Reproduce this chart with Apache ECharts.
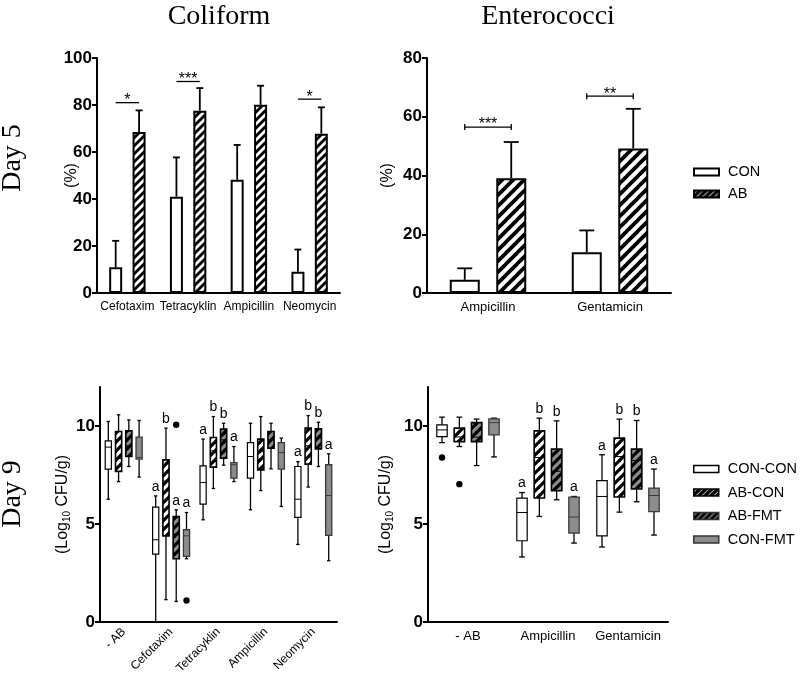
<!DOCTYPE html>
<html><head><meta charset="utf-8">
<script src="https://cdn.jsdelivr.net/npm/echarts@6/dist/echarts.min.js"></script>
<style>html,body{margin:0;padding:0;background:#fff}#c{width:800px;height:685px}</style>
</head><body><div id="c"></div>
<script>
// ---------- Day 5 : Coliform ----------
const coliCats = ['Cefotaxim', 'Tetracyklin', 'Ampicillin', 'Neomycin'];
const coliCON = [11, 41, 48.2, 9];
const coliCONUpper = [22.2, 57.7, 63, 18.5];
const coliAB = [68.5, 77.6, 80.1, 67.8];
const coliABUpper = [77.7, 87.2, 88.2, 79];
const coliSigCat = [0, 1, 3];
const coliSigY = [81, 90, 82.5];
const coliSigText = ['*', '***', '*'];

// ---------- Day 5 : Enterococci ----------
const enteroCats = ['Ampicillin', 'Gentamicin'];
const enteroCON = [4.5, 13.9];
const enteroCONUpper = [8.4, 21.3];
const enteroAB = [39.1, 49.2];
const enteroABUpper = [51.4, 62.7];
const enteroSigCat = [0, 1];
const enteroSigY = [56.5, 67];
const enteroSigText = ['***', '**'];

// ---------- Day 9 ----------
const groups = ['CON-CON', 'AB-CON', 'AB-FMT', 'CON-FMT'];
const coli9Cats = ['- AB', 'Cefotaxim', 'Tetracyklin', 'Ampicillin', 'Neomycin'];
// [min, Q1, median, Q3, max]
const coli9ConCon = [[6.27, 7.81, 8.93, 9.25, 10.24], [0, 3.47, 4.2, 5.87, 6.44], [5.22, 6.02, 7.12, 7.97, 9.34], [5.73, 7.35, 8.45, 9.16, 10.15], [3.96, 5.34, 6.27, 7.94, 8.19]];
const coli9AbCon = [[7.17, 7.69, 8.35, 9.73, 10.58], [1.14, 4.4, 7.2, 8.28, 9.9], [6.82, 7.91, 8.74, 9.42, 10.49], [6.71, 7.77, 8.7, 9.34, 10.49], [6.89, 8.06, 9.0, 9.9, 10.54]];
const coli9AbFmt = [[7.94, 8.45, 9.0, 9.76, 10.32], [1.05, 3.23, 4.5, 5.39, 5.73], [8.01, 8.37, 9.3, 9.85, 10.15], [7.82, 8.88, 9.3, 9.73, 10.15], [7.94, 8.84, 9.4, 9.86, 10.2]];
const coli9ConFmt = [[7.4, 8.32, 8.4, 9.44, 10.29], [3.23, 3.35, 4.4, 4.71, 5.59], [7.17, 7.35, 8.03, 8.14, 8.96], [5.9, 7.81, 8.65, 9.16, 9.39], [3.13, 4.42, 6.46, 8.03, 8.59]];
const coli9LettersConCon = ['', 'a', 'a', '', 'a'];
const coli9LettersAbCon = ['', 'b', 'b', '', 'b'];
const coli9LettersAbFmt = ['', 'a', 'b', '', 'b'];
const coli9LettersConFmt = ['', 'a', 'a', '', 'a'];
// [category index, group index, value]
const coli9Outliers = [[1, 2, 10.07], [1, 3, 1.1]];

const entero9Cats = ['- AB', 'Ampicillin', 'Gentamicin'];
const entero9ConCon = [[9.16, 9.47, 9.81, 10.07, 10.46], [3.32, 4.15, 5.59, 6.33, 6.61], [3.83, 4.4, 6.41, 7.22, 8.54]];
const entero9AbCon = [[8.96, 9.21, 9.45, 9.9, 10.46], [5.39, 6.33, 8.4, 9.76, 10.41], [5.61, 6.38, 8.45, 9.39, 10.36]];
const entero9AbFmt = [[7.99, 9.21, 9.44, 10.18, 10.36], [6.24, 6.7, 7.7, 8.83, 10.27], [6.14, 6.79, 8.25, 8.83, 10.29]];
const entero9ConFmt = [[8.43, 9.56, 10.18, 10.37, 10.41], [4.03, 4.54, 5.36, 6.38, 6.41], [4.44, 5.64, 6.46, 6.84, 7.81]];
const entero9LettersConCon = ['', 'a', 'a'];
const entero9LettersAbCon = ['', 'b', 'b'];
const entero9LettersAbFmt = ['', 'b', 'b'];
const entero9LettersConFmt = ['', 'a', 'a'];
const entero9Outliers = [[0, 0, 8.4], [0, 1, 7.04]];

const pctTicks = [0, 20, 40, 60, 80, 100];
const logTicks = [0, 5, 10];

// ---------- helpers ----------
const SANS = '"Liberation Sans", Arial, sans-serif';
const SERIF = '"Liberation Serif", "Times New Roman", serif';
function stripes(p, bg, lw) {
  const c = document.createElement('canvas');
  c.width = p; c.height = p;
  const g = c.getContext('2d');
  g.fillStyle = bg; g.fillRect(0, 0, p, p);
  g.strokeStyle = '#000'; g.lineWidth = lw;
  for (let k = -1; k <= 1; k++) {
    g.beginPath(); g.moveTo(k * p - 1, p + 1); g.lineTo(k * p + p + 1, -1); g.stroke();
  }
  return { image: c, repeat: 'repeat' };
}
const GRAY = '#8c8c8c';
const patTL = stripes(8, '#fff', 2.8);
const patTR = stripes(11, '#fff', 3.8);
const patBW = stripes(9, '#fff', 3.2);
const patBG = stripes(9, GRAY, 3.2);
const patLegAB = stripes(6, '#fff', 3.5);

function xAx(gi, cats, rotate, fs) {
  return {
    type: 'category', gridIndex: gi, data: cats,
    axisLine: { lineStyle: { color: '#000', width: 2 } },
    axisTick: { alignWithLabel: true, length: 5, lineStyle: { color: '#000', width: 2 } },
    axisLabel: { color: '#000', fontSize: fs, fontFamily: SANS, margin: 8, rotate: rotate, interval: 0 },
    splitLine: { show: false }
  };
}
function yAx(gi, max, interval, ticks, name, gap) {
  return {
    type: 'value', gridIndex: gi, min: 0, max: max, interval: interval,
    name: name, nameLocation: 'middle', nameGap: gap, nameRotate: 90, nameMoveOverlap: false,
    nameTextStyle: { color: '#000', fontSize: 16, fontFamily: SANS, rich: { sub: { fontSize: 10, verticalAlign: 'bottom', padding: [8, 0, 0, 0], fontFamily: SANS, color: '#000' } } },
    axisLine: { show: true, lineStyle: { color: '#000', width: 2 } },
    axisTick: { show: true, length: 5, lineStyle: { color: '#000', width: 2 }, customValues: ticks },
    axisLabel: { color: '#000', fontSize: 17, fontWeight: 'bold', fontFamily: SANS, margin: 5, customValues: ticks },
    splitLine: { show: false }
  };
}
function barSeries(ax, name, vals, color, bw, gap) {
  return {
    type: 'bar', name: name, xAxisIndex: ax, yAxisIndex: ax, data: vals,
    barWidth: bw, barGap: gap, z: 3,
    itemStyle: { color: color, borderColor: '#000', borderWidth: 2 }
  };
}
function errSeries(ax, vals, uppers, off, capW) {
  return {
    type: 'custom', xAxisIndex: ax, yAxisIndex: ax, silent: true, z: 2,
    data: vals.map((v, i) => [i, v, uppers[i]]),
    renderItem(params, api) {
      const c = api.coord([api.value(0), api.value(1)]);
      const e = api.coord([api.value(0), api.value(2)]);
      const x = c[0] + off;
      const st = { stroke: '#000', lineWidth: 1.8 };
      return { type: 'group', children: [
        { type: 'line', shape: { x1: x, y1: c[1], x2: x, y2: e[1] }, style: st },
        { type: 'line', shape: { x1: x - capW / 2, y1: e[1], x2: x + capW / 2, y2: e[1] }, style: st }
      ] };
    }
  };
}
function sigSeries(ax, cats, ys, texts, off, endTick) {
  return {
    type: 'custom', xAxisIndex: ax, yAxisIndex: ax, silent: true, z: 4,
    data: cats.map((c, i) => [c, ys[i]]),
    renderItem(params, api) {
      const p = api.coord([api.value(0), api.value(1)]);
      const st = { stroke: '#000', lineWidth: 1.3 };
      const ch = [{ type: 'line', shape: { x1: p[0] - off, y1: p[1], x2: p[0] + off, y2: p[1] }, style: st }];
      if (endTick) {
        ch.push({ type: 'line', shape: { x1: p[0] - off, y1: p[1] - 3, x2: p[0] - off, y2: p[1] + 3 }, style: st });
        ch.push({ type: 'line', shape: { x1: p[0] + off, y1: p[1] - 3, x2: p[0] + off, y2: p[1] + 3 }, style: st });
      }
      ch.push({ type: 'text', x: p[0], y: p[1] - 2, style: { text: texts[params.dataIndex], fill: '#000', font: '16px ' + SANS, align: 'center', verticalAlign: 'middle' } });
      return { type: 'group', children: ch };
    }
  };
}
const OFFS = [-0.325, -0.108, 0.108, 0.325];
function boxSeries(ax, gi, boxes, letters, fill, stroke, lw) {
  return {
    type: 'custom', name: groups[gi], xAxisIndex: ax, yAxisIndex: ax, z: 3,
    itemStyle: { color: fill, borderColor: stroke },
    data: boxes.map((b, i) => [i].concat(b)),
    renderItem(params, api) {
      const i = api.value(0);
      const band = api.size([1, 0])[0];
      const cx = api.coord([i, 0])[0] + OFFS[gi] * band;
      const w = band * 0.13, cap = w * 0.55;
      const y = k => api.coord([i, api.value(k)])[1];
      const yMin = y(1), yQ1 = y(2), yMed = y(3), yQ3 = y(4), yMax = y(5);
      const ls = { stroke: '#000', lineWidth: 1.3 };
      const ch = [
        { type: 'line', shape: { x1: cx, y1: yMax, x2: cx, y2: yQ3 }, style: ls },
        { type: 'line', shape: { x1: cx, y1: yQ1, x2: cx, y2: yMin }, style: ls },
        { type: 'line', shape: { x1: cx - cap / 2, y1: yMax, x2: cx + cap / 2, y2: yMax }, style: ls },
        { type: 'line', shape: { x1: cx - cap / 2, y1: yMin, x2: cx + cap / 2, y2: yMin }, style: ls },
        { type: 'rect', shape: { x: cx - w / 2, y: yQ3, width: w, height: yQ1 - yQ3 }, style: { fill: fill, stroke: stroke, lineWidth: lw } },
        { type: 'line', shape: { x1: cx - w / 2, y1: yMed, x2: cx + w / 2, y2: yMed }, style: { stroke: stroke, lineWidth: 1 } }
      ];
      const L = letters[params.dataIndex];
      if (L) ch.push({ type: 'text', x: cx, y: yMax - 2, style: { text: L, fill: '#000', font: '14px ' + SANS, align: 'center', verticalAlign: 'bottom' } });
      return { type: 'group', children: ch };
    }
  };
}
function outlierSeries(ax, pts) {
  return {
    type: 'custom', xAxisIndex: ax, yAxisIndex: ax, silent: true, z: 4,
    data: pts,
    renderItem(params, api) {
      const band = api.size([1, 0])[0];
      const p = api.coord([api.value(0), api.value(2)]);
      return { type: 'circle', shape: { cx: p[0] + OFFS[api.value(1)] * band, cy: p[1], r: 3.2 }, style: { fill: '#000' } };
    }
  };
}
function boxFills(ax, a, b, c, d, la, lb, lc, ld) {
  return [
    boxSeries(ax, 0, a, la, '#fff', '#000', 1.2),
    boxSeries(ax, 1, b, lb, patBW, '#000', 1.6),
    boxSeries(ax, 2, c, lc, patBG, '#000', 1.6),
    boxSeries(ax, 3, d, ld, GRAY, '#3a3a3a', 1.3)
  ];
}

const chart = echarts.init(document.getElementById('c'), null, { renderer: 'canvas' });
const offTL = 13 * 1.8 / 2, offTR = 30 * 1.55 / 2;
chart.setOption({
  animation: false,
  backgroundColor: '#fff',
  title: [
    { text: 'Coliform', left: 214, top: -2, textAlign: 'center', textStyle: { fontFamily: SERIF, fontSize: 28, fontWeight: 'normal', color: '#000' } },
    { text: 'Enterococci', left: 543, top: -2, textAlign: 'center', textStyle: { fontFamily: SERIF, fontSize: 28, fontWeight: 'normal', color: '#000' } }
  ],
  graphic: [
    { type: 'text', x: 13, y: 158, rotation: Math.PI / 2, style: { text: 'Day 5', font: '28px ' + SERIF, fill: '#000', align: 'center', verticalAlign: 'middle' } },
    { type: 'text', x: 13, y: 494, rotation: Math.PI / 2, style: { text: 'Day 9', font: '28px ' + SERIF, fill: '#000', align: 'center', verticalAlign: 'middle' } }
  ],
  legend: [
    { orient: 'vertical', left: 688, top: 158, itemWidth: 25, itemHeight: 7, itemGap: 4, selectedMode: false,
      textStyle: { fontSize: 14.5, color: '#000', fontFamily: SANS, lineHeight: 18, padding: [0, 0, 0, 4] },
      data: [
        { name: 'CON', icon: 'rect', itemStyle: { color: '#fff', borderColor: '#000', borderWidth: 2 } },
        { name: 'AB', icon: 'rect', itemStyle: { color: patLegAB, borderColor: '#000', borderWidth: 2 } }
      ] },
    { orient: 'vertical', left: 688, top: 455, itemWidth: 25, itemHeight: 7, itemGap: 5.5, selectedMode: false,
      textStyle: { fontSize: 14.5, color: '#000', fontFamily: SANS, lineHeight: 18, padding: [0, 0, 0, 4] },
      data: [
        { name: 'CON-CON', icon: 'rect', itemStyle: { color: '#fff', borderColor: '#000', borderWidth: 1.5 } },
        { name: 'AB-CON', icon: 'rect', itemStyle: { color: patLegAB, borderColor: '#000', borderWidth: 1.5 } },
        { name: 'AB-FMT', icon: 'rect', itemStyle: { color: stripes(6, GRAY, 3), borderColor: '#333', borderWidth: 1.5 } },
        { name: 'CON-FMT', icon: 'rect', itemStyle: { color: GRAY, borderColor: '#333', borderWidth: 1.5 } }
      ] }
  ],
  grid: [
    { left: 97, top: 58, width: 243, height: 235 },
    { left: 427, top: 58, width: 244, height: 235 },
    { left: 100, top: 387, width: 237, height: 235 },
    { left: 428, top: 387, width: 240, height: 235 }
  ],
  xAxis: [
    xAx(0, coliCats, 0, 12),
    xAx(1, enteroCats, 0, 13),
    xAx(2, coli9Cats, 45, 12),
    xAx(3, entero9Cats, 0, 13)
  ],
  yAxis: [
    yAx(0, 100, 20, pctTicks, '(%)', 17),
    yAx(1, 80, 20, pctTicks.slice(0, 5), '(%)', 31),
    yAx(2, 12, 5, logTicks, '(Log{sub|10} CFU/g)', 28),
    yAx(3, 12, 5, logTicks, '(Log{sub|10} CFU/g)', 33)
  ],
  series: [
    barSeries(0, 'CON', coliCON, '#fff', 13, '80%'),
    barSeries(0, 'AB', coliAB, patTL, 13, '80%'),
    errSeries(0, coliCON, coliCONUpper, -offTL, 7),
    errSeries(0, coliAB, coliABUpper, offTL, 7),
    sigSeries(0, coliSigCat, coliSigY, coliSigText, offTL, false),
    barSeries(1, 'CON', enteroCON, '#fff', 30, '55%'),
    barSeries(1, 'AB', enteroAB, patTR, 30, '55%'),
    errSeries(1, enteroCON, enteroCONUpper, -offTR, 15),
    errSeries(1, enteroAB, enteroABUpper, offTR, 15),
    sigSeries(1, enteroSigCat, enteroSigY, enteroSigText, offTR, true)
  ].concat(
    boxFills(2, coli9ConCon, coli9AbCon, coli9AbFmt, coli9ConFmt, coli9LettersConCon, coli9LettersAbCon, coli9LettersAbFmt, coli9LettersConFmt),
    [outlierSeries(2, coli9Outliers)],
    boxFills(3, entero9ConCon, entero9AbCon, entero9AbFmt, entero9ConFmt, entero9LettersConCon, entero9LettersAbCon, entero9LettersAbFmt, entero9LettersConFmt),
    [outlierSeries(3, entero9Outliers)]
  )
});
</script></body></html>
